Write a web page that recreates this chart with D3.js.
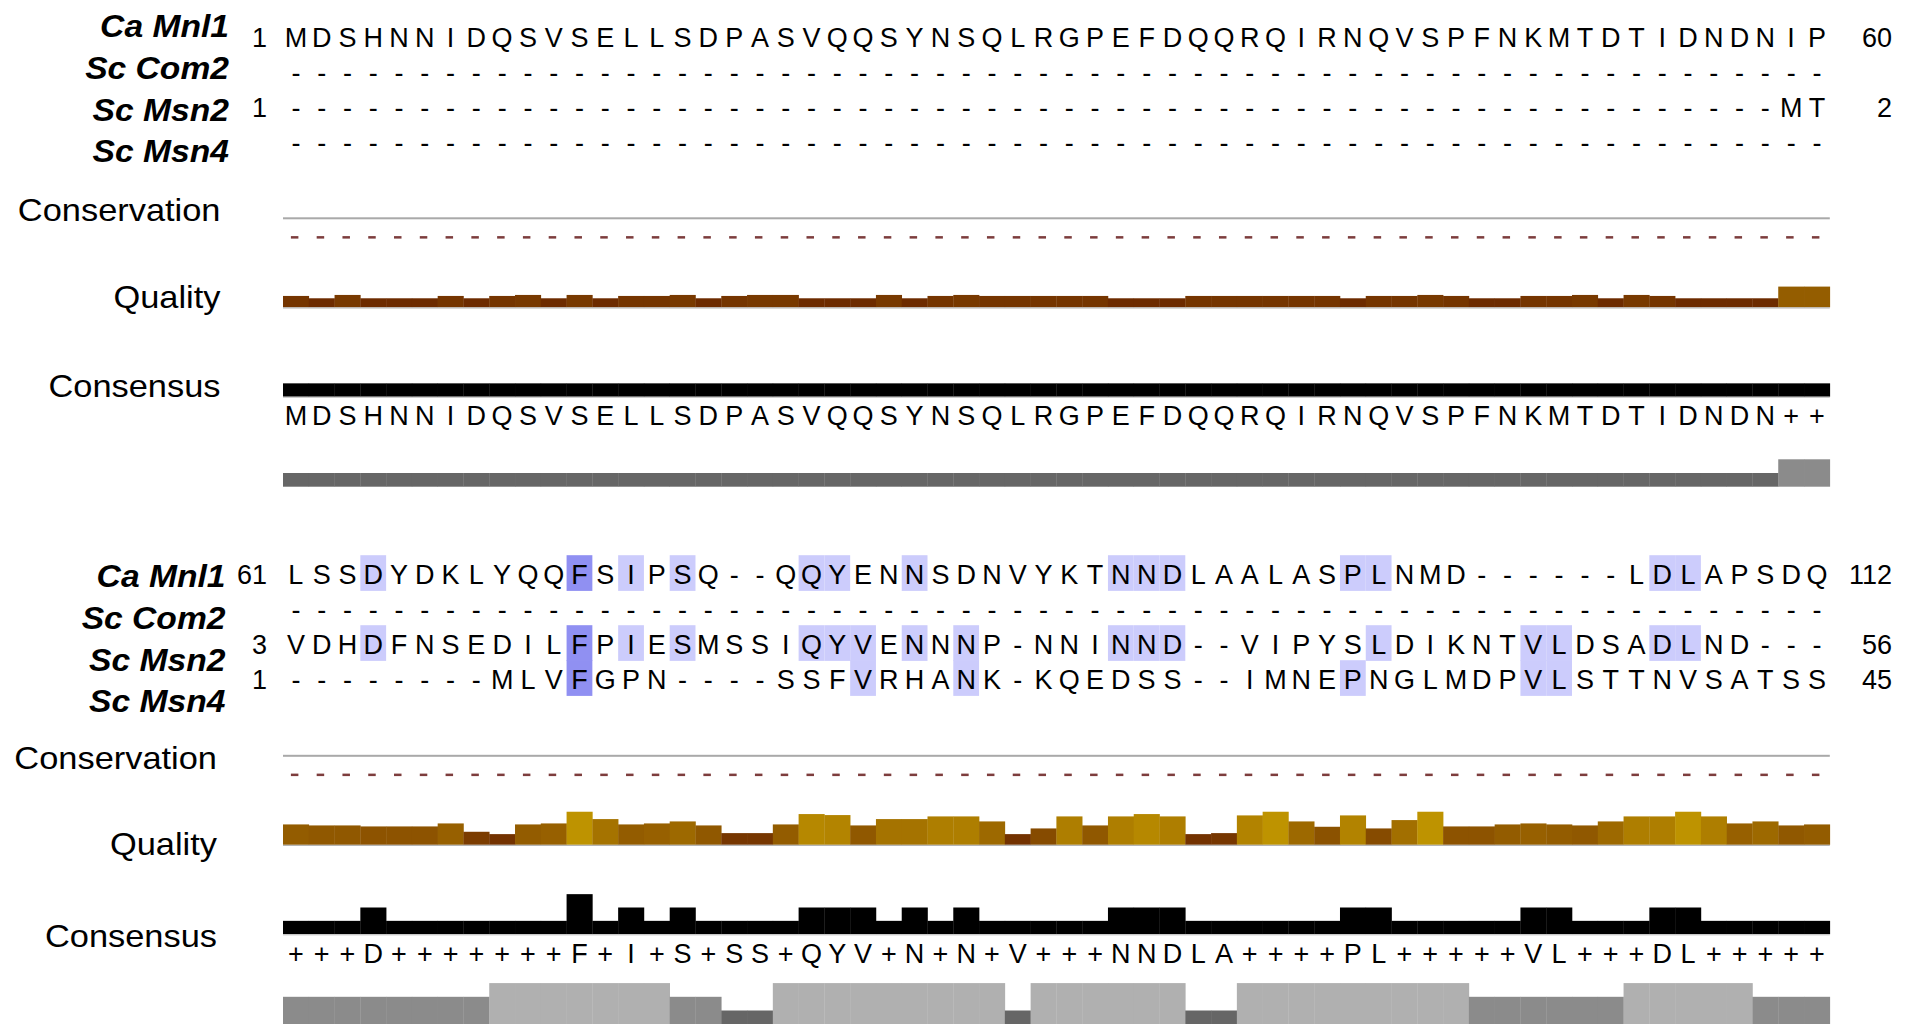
<!DOCTYPE html>
<html>
<head>
<meta charset="utf-8">
<script src="https://cdn.jsdelivr.net/npm/d3@7"></script>
<style>
  html, body { margin: 0; padding: 0; background: #ffffff; }
  svg { display: block; }
  text { font-family: "Liberation Sans", Arial, Helvetica, sans-serif; }
</style>
</head>
<body>
<svg id="chart" width="1915" height="1024"></svg>
<script>
// ---- Alignment data -------------------------------------------------------
const seqNames = ["Ca Mnl1", "Sc Com2", "Sc Msn2", "Sc Msn4"];
const annotationNames = ["Conservation", "Quality", "Consensus"];

// Block 1: alignment columns 1-60
const block1Rows = [
  "MDSHNNIDQSVSELLSDPASVQQSYNSQLRGPEFDQQRQIRNQVSPFNKMTDTIDNDNIP",
  "------------------------------------------------------------",
  "----------------------------------------------------------MT",
  "------------------------------------------------------------"
];
const block1StartNums = [1, null, 1, null];
const block1EndNums = [60, null, 2, null];
const block1Consensus = "MDSHNNIDQSVSELLSDPASVQQSYNSQLRGPEFDQQRQIRNQVSPFNKMTDTIDNDN++";
const block1ConsensusPct = [
  25,25,25,25,25,25,25,25,25,25, 25,25,25,25,25,25,25,25,25,25,
  25,25,25,25,25,25,25,25,25,25, 25,25,25,25,25,25,25,25,25,25,
  25,25,25,25,25,25,25,25,25,25, 25,25,25,25,25,25,25,25,25,25
];
const block1Occupancy = [
  25,25,25,25,25,25,25,25,25,25, 25,25,25,25,25,25,25,25,25,25,
  25,25,25,25,25,25,25,25,25,25, 25,25,25,25,25,25,25,25,25,25,
  25,25,25,25,25,25,25,25,25,25, 25,25,25,25,25,25,25,25,50,50
];
const block1Quality = [
  34,27,37,27,27,27,34,27,34,37, 27,37,27,34,34,37,27,34,37,37,
  27,27,27,37,27,34,37,34,34,34, 34,34,27,27,27,34,34,34,34,34,
  34,27,34,34,37,34,27,27,34,34, 37,27,37,34,27,27,27,27,62,62
];

// Block 2: alignment columns 61-120
const block2Rows = [
  "LSSDYDKLYQQFSIPSQ--QQYENNSDNVYKTNNDLAALASPLNMD------LDLAPSDQ",
  "------------------------------------------------------------",
  "VDHDFNSEDILFPIESMSSIQYVENNNP-NNINND--VIPYSLDIKNTVLDSADLND---",
  "--------MLVFGPN----SSFVRHANK-KQEDSS--IMNEPNGLMDPVLSTTNVSATSS"
];
const block2StartNums = [61, null, 3, 1];
const block2EndNums = [112, null, 56, 45];
const block2Consensus = "+++D+++++++F+I+S+SS+QYV+N+N+V+++NNDLA++++PL+++++VL+++DL+++++";
const block2ConsensusPct = [
  25,25,25,50,25,25,25,25,25,25, 25,75,25,50,25,50,25,25,25,25,
  50,50,50,25,50,25,50,25,25,25, 25,25,50,50,50,25,25,25,25,25,
  25,50,50,25,25,25,25,25,50,50, 25,25,25,50,50,25,25,25,25,25
];
const block2Occupancy = [
  50,50,50,50,50,50,50,50,75,75, 75,75,75,75,75,50,50,25,25,75,
  75,75,75,75,75,75,75,75,25,75, 75,75,75,75,75,25,25,75,75,75,
  75,75,75,75,75,75,50,50,50,50, 50,50,75,75,75,75,75,50,50,50
];
const block2Quality = [
  61,58,58,55,55,55,64,39,32,61, 64,99,77,61,64,70,58,35,35,61,
  92,89,58,77,77,85,85,70,32,49, 85,58,85,92,85,32,35,88,99,70,
  54,88,49,74,99,55,55,61,64,61, 58,70,85,85,99,85,64,70,58,61
];

const blocks = [
  { rows: block1Rows, startNums: block1StartNums, endNums: block1EndNums,
    consensus: block1Consensus, consensusPct: block1ConsensusPct,
    occupancy: block1Occupancy, quality: block1Quality },
  { rows: block2Rows, startNums: block2StartNums, endNums: block2EndNums,
    consensus: block2Consensus, consensusPct: block2ConsensusPct,
    occupancy: block2Occupancy, quality: block2Quality }
];

// ---- Layout ---------------------------------------------------------------
const layout = [
  { off: 0,     labelRight: 229, annoRight: 220.5,
    labelBase: [37, 78.5, 120.5, 162], annoBase: [221, 307.5, 397] },
  { off: 537.5, labelRight: 225.5, annoRight: 217,
    labelBase: [586.5, 628.5, 670.5, 712], annoBase: [768.5, 855, 947] }
];
const ROW0 = 46.7, ROW_STEP = 35;
const CONS_LINE = 218.3, CONS_DASH = 237.3, QUAL_BASE = 307.3;
const CONSENSUS_BASE = 396.7, CONSENSUS_TEXT = 425, OCC_BASE = 486.7;
const SEQ_FONT = 27;

const svg = d3.select("#chart");
svg.append("rect").attr("width", 1915).attr("height", 1024).attr("fill", "#fff");

const x = d3.scaleLinear().domain([0, 60]).range([283, 1829.8]);
const colW = x(1) - x(0);
const qualH = d3.scaleLinear().domain([0, 100]).range([0, 33.4]);
const consH = d3.scaleLinear().domain([0, 100]).range([0, 53.4]);
const occH = d3.scaleLinear().domain([0, 100]).range([0, 54.8]);
const qualColor = d3.scaleLinear().domain([25, 100]).range(["#6b2800", "#bf9400"])
  .interpolate(d3.interpolateRgb).clamp(true);
const occColor = d3.scaleLinear().domain([25, 75]).range(["#666666", "#b0b0b0"]);
const pidColor = d3.scaleThreshold().domain([40, 60]).range(["none", "#ccccfc", "#9090f2"]);

blocks.forEach((blk, bi) => {
  const L = layout[bi];
  const g = svg.append("g").attr("class", "block");
  const cols = d3.range(60);

  // sequence name labels
  g.selectAll("g.seqlabel").data(seqNames).join("g")
    .attr("class", "seqlabel")
    .attr("transform", (d, i) => `translate(${L.labelRight},${L.labelBase[i]}) scale(1.085,1)`)
    .append("text")
    .attr("text-anchor", "end")
    .attr("font-size", 31).attr("font-weight", "bold").attr("font-style", "italic")
    .attr("fill", "#000")
    .text(d => d);

  // annotation row labels
  g.selectAll("g.annolabel").data(annotationNames).join("g")
    .attr("class", "annolabel")
    .attr("transform", (d, i) => `translate(${L.annoRight},${L.annoBase[i]}) scale(1.11,1)`)
    .append("text")
    .attr("text-anchor", "end")
    .attr("font-size", 31).attr("fill", "#000")
    .text(d => d);

  // sequences
  blk.rows.forEach((seq, ri) => {
    const base = ROW0 + L.off + ri * ROW_STEP;
    const cells = cols.map(c => ({ c, ch: seq[c],
      pct: (seq[c] === blk.consensus[c] && seq[c] !== "-") ? blk.consensusPct[c] : 0 }));
    // percent-identity shading against the consensus
    g.selectAll(null).data(cells.filter(d => pidColor(d.pct) !== "none")).join("rect")
      .attr("x", d => x(d.c)).attr("y", base - 29)
      .attr("width", colW).attr("height", 35.7)
      .attr("fill", d => pidColor(d.pct));
    g.selectAll(null).data(cells).join("text")
      .attr("x", d => x(d.c) + colW / 2).attr("y", base)
      .attr("text-anchor", "middle").attr("font-size", SEQ_FONT).attr("fill", "#000")
      .text(d => d.ch);
    if (blk.startNums[ri] !== null) {
      g.append("text").attr("x", 267).attr("y", base).attr("text-anchor", "end")
        .attr("font-size", SEQ_FONT).text(blk.startNums[ri]);
    }
    if (blk.endNums[ri] !== null) {
      g.append("text").attr("x", 1892).attr("y", base).attr("text-anchor", "end")
        .attr("font-size", SEQ_FONT).text(blk.endNums[ri]);
    }
  });

  // conservation: baseline and per-column markers
  g.append("rect").attr("x", x(0)).attr("y", CONS_LINE + L.off - 1)
    .attr("width", x(60) - x(0)).attr("height", 2).attr("fill", "#a9a9a9");
  g.selectAll(null).data(cols).join("rect")
    .attr("x", d => x(d) + colW / 2 - 5).attr("y", CONS_DASH + L.off - 1.2)
    .attr("width", 7.5).attr("height", 2.5).attr("fill", "#7d3d3d");

  // quality histogram
  g.selectAll(null).data(blk.quality).join("rect")
    .attr("x", (d, i) => x(i)).attr("width", colW + 0.3)
    .attr("y", d => QUAL_BASE + L.off - qualH(d)).attr("height", d => qualH(d))
    .attr("fill", d => qualColor(d));
  g.append("rect").attr("x", x(0)).attr("y", QUAL_BASE + L.off)
    .attr("width", x(60) - x(0)).attr("height", 1.2).attr("fill", "#b4b4b4");

  // consensus histogram
  g.selectAll(null).data(blk.consensusPct).join("rect")
    .attr("x", (d, i) => x(i)).attr("width", colW + 0.3)
    .attr("y", d => CONSENSUS_BASE + L.off - consH(d)).attr("height", d => consH(d))
    .attr("fill", "#000");
  g.append("rect").attr("x", x(0)).attr("y", CONSENSUS_BASE + L.off)
    .attr("width", x(60) - x(0)).attr("height", 1.2).attr("fill", "#c8c8c8");
  g.selectAll(null).data(blk.consensus.split("")).join("text")
    .attr("x", (d, i) => x(i) + colW / 2).attr("y", CONSENSUS_TEXT + L.off)
    .attr("text-anchor", "middle").attr("font-size", SEQ_FONT).attr("fill", "#000")
    .text(d => d);

  // occupancy histogram
  g.selectAll(null).data(blk.occupancy).join("rect")
    .attr("x", (d, i) => x(i)).attr("width", colW + 0.3)
    .attr("y", d => OCC_BASE + L.off - occH(d)).attr("height", d => occH(d))
    .attr("fill", d => occColor(d));
});
</script>
</body>
</html>
